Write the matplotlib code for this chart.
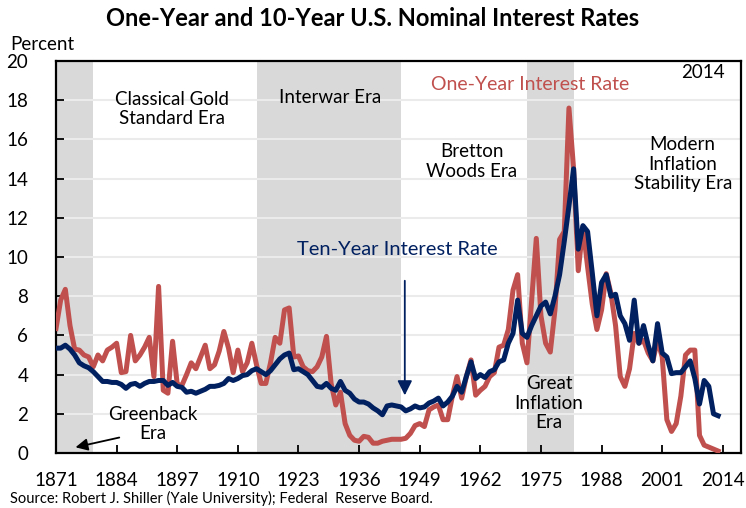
import matplotlib
matplotlib.use("Agg")
import matplotlib.pyplot as plt
import numpy as np

plt.rcParams['font.family'] = ['Lato', 'DejaVu Sans']

years = np.arange(1871, 2014)

# ten-year rate, percent
ten_year = [5.35, 5.35, 5.5, 5.3, 5.0, 4.6, 4.45, 4.35, 4.15, 3.9,
            3.65, 3.65, 3.6, 3.6, 3.5, 3.3, 3.5, 3.55, 3.4, 3.55,
            3.65, 3.65, 3.7, 3.7, 3.45, 3.6, 3.4, 3.35, 3.1, 3.15,
            3.05, 3.15, 3.25, 3.4, 3.4, 3.45, 3.55, 3.8, 3.7, 3.8,
            3.95, 4.0, 4.2, 4.3, 4.15, 4.0, 4.2, 4.5, 4.8, 5.0,
            5.1, 4.25, 4.3, 4.15, 4.0, 3.7, 3.4, 3.35, 3.55, 3.3,
            3.2, 3.65, 3.2, 3.05, 2.75, 2.6, 2.6, 2.5, 2.3, 2.15,
            1.95, 2.4, 2.45, 2.4, 2.35, 2.15, 2.25, 2.4, 2.3, 2.35,
            2.55, 2.65, 2.8, 2.4, 2.6, 2.9, 3.4, 3.1, 3.9, 4.65,
            3.8, 4.0, 3.85, 4.15, 4.25, 4.65, 4.75, 5.6, 6.1, 7.8,
            6.1, 5.9, 6.5, 7.0, 7.5, 7.7, 7.1, 8.0, 9.1, 10.8,
            12.6, 14.5, 10.4, 11.6, 11.3, 9.2, 7.0, 8.7, 9.1, 8.0,
            8.1, 7.0, 6.6, 5.75, 7.8, 5.6, 6.5, 5.5, 4.7, 6.6,
            5.1, 4.9, 4.05, 4.1, 4.1, 4.4, 4.7, 3.8, 2.5, 3.7,
            3.4, 2.0, 1.9]

# one-year rate, percent
one_year = [6.35, 7.8, 8.35, 6.5, 5.3, 5.25, 5.0, 4.9, 4.4, 5.0,
            4.7, 5.25, 5.4, 5.6, 4.1, 4.15, 6.0, 4.7, 5.0, 5.4,
            5.9, 3.9, 8.5, 3.2, 3.05, 5.7, 3.5, 3.45, 4.0, 4.6,
            4.3, 4.9, 5.5, 4.3, 4.5, 5.2, 6.2, 5.35, 4.1, 5.25,
            4.15, 4.6, 5.6, 4.5, 3.55, 3.55, 4.6, 5.9, 5.6, 7.3,
            7.4, 4.9, 4.95, 4.4, 4.2, 4.15, 4.4, 4.9, 5.95, 3.55,
            2.45, 3.1, 1.5, 0.9, 0.65, 0.6, 0.85, 0.8, 0.5, 0.5,
            0.6, 0.65, 0.7, 0.7, 0.7, 0.75, 1.0, 1.4, 1.5, 1.35,
            2.2, 2.35, 2.45, 1.7, 1.7, 2.9, 3.9, 2.8, 3.9, 4.75,
            2.95, 3.2, 3.4, 3.9, 4.1, 5.4, 5.5, 6.3, 8.3, 9.1,
            5.6, 4.6, 7.8, 10.95, 7.0, 5.6, 5.15, 7.3, 10.9, 11.3,
            17.6, 14.5, 9.3, 11.55, 9.5, 7.6, 6.3, 7.3, 9.15, 8.15,
            6.5, 3.9, 3.4, 4.3, 6.1, 5.6, 5.75, 5.1, 4.7, 5.75,
            4.9, 1.7, 1.1, 1.5, 2.9, 5.0, 5.25, 5.25, 0.9, 0.4,
            0.3, 0.2, 0.1]

eras = [(1871, 1879), (1914, 1945), (1972, 1982)]
xticks = np.arange(1871, 2015, 13)

red = '#C0504D'
navy = '#002060'

fig = plt.figure(figsize=(7.46, 5.08), dpi=100)
ax = fig.add_axes([56/746, 55/508, 685/746, 392/508])

for a, b in eras:
    ax.axvspan(a, b, color='#D9D9D9', lw=0, zorder=0)

ax.set_yticks(np.arange(0, 21, 2))
for y in np.arange(2, 20, 2):
    ax.axhline(y, color='#EBEBEB', lw=1.5, zorder=0.5)

ax.plot(years, one_year, color=red, lw=3.6, zorder=3, solid_joinstyle='round')
ax.plot(years, ten_year, color=navy, lw=3.6, zorder=4, solid_joinstyle='round')

ax.set_xlim(1871, 2017.9)
ax.set_ylim(0, 20)
ax.set_xticks(xticks)
ax.tick_params(direction='in', length=6, width=1.3, labelsize=13.5, colors='black')
ax.tick_params(axis='x', pad=14)
ax.tick_params(axis='y', pad=20)
for s in ax.spines.values():
    s.set_linewidth(1.6)

fs = 13.5
ax.text(1895.9, 17.55, 'Classical Gold\nStandard Era', ha='center', va='center', fontsize=fs)
ax.text(1929.7, 18.16, 'Interwar Era', ha='center', va='center', fontsize=fs)
ax.text(1972.6, 18.78, 'One-Year Interest Rate', ha='center', va='center', fontsize=14, color=red)
ax.text(2009.7, 19.4, '2014', ha='center', va='center', fontsize=fs)
ax.text(1960.2, 14.87, 'Bretton\nWoods Era', ha='center', va='center', fontsize=fs)
ax.text(2005.4, 14.74, 'Modern\nInflation\nStability Era', ha='center', va='center', fontsize=fs)
ax.text(1944.1, 10.4, 'Ten-Year Interest Rate', ha='center', va='center', fontsize=14.5, color=navy)
ax.text(1976.7, 2.55, 'Great\nInflation\nEra', ha='center', va='center', fontsize=fs)
ax.text(1891.8, 1.48, 'Greenback\nEra', ha='center', va='center', fontsize=fs)

ax.annotate('', xy=(1945.8, 2.8), xytext=(1945.8, 8.93),
            arrowprops=dict(arrowstyle='-|>', color=navy, lw=1.3, mutation_scale=22))
ax.annotate('', xy=(1874.6, 0.26), xytext=(1885.15, 0.82),
            arrowprops=dict(arrowstyle='-|>', color='black', lw=1.3, mutation_scale=18))

fig.text(0.5, 1 - 18/508, 'One-Year and 10-Year U.S. Nominal Interest Rates',
         ha='center', va='center', fontsize=17, fontweight='bold')
fig.text(10/746, 1 - 45/508, 'Percent', ha='left', va='center', fontsize=fs)
fig.text(10/746, 1 - 498/508, 'Source: Robert J. Shiller (Yale University); Federal  Reserve Board.',
         ha='left', va='center', fontsize=10.5)

fig.savefig('out.png', dpi=100)
